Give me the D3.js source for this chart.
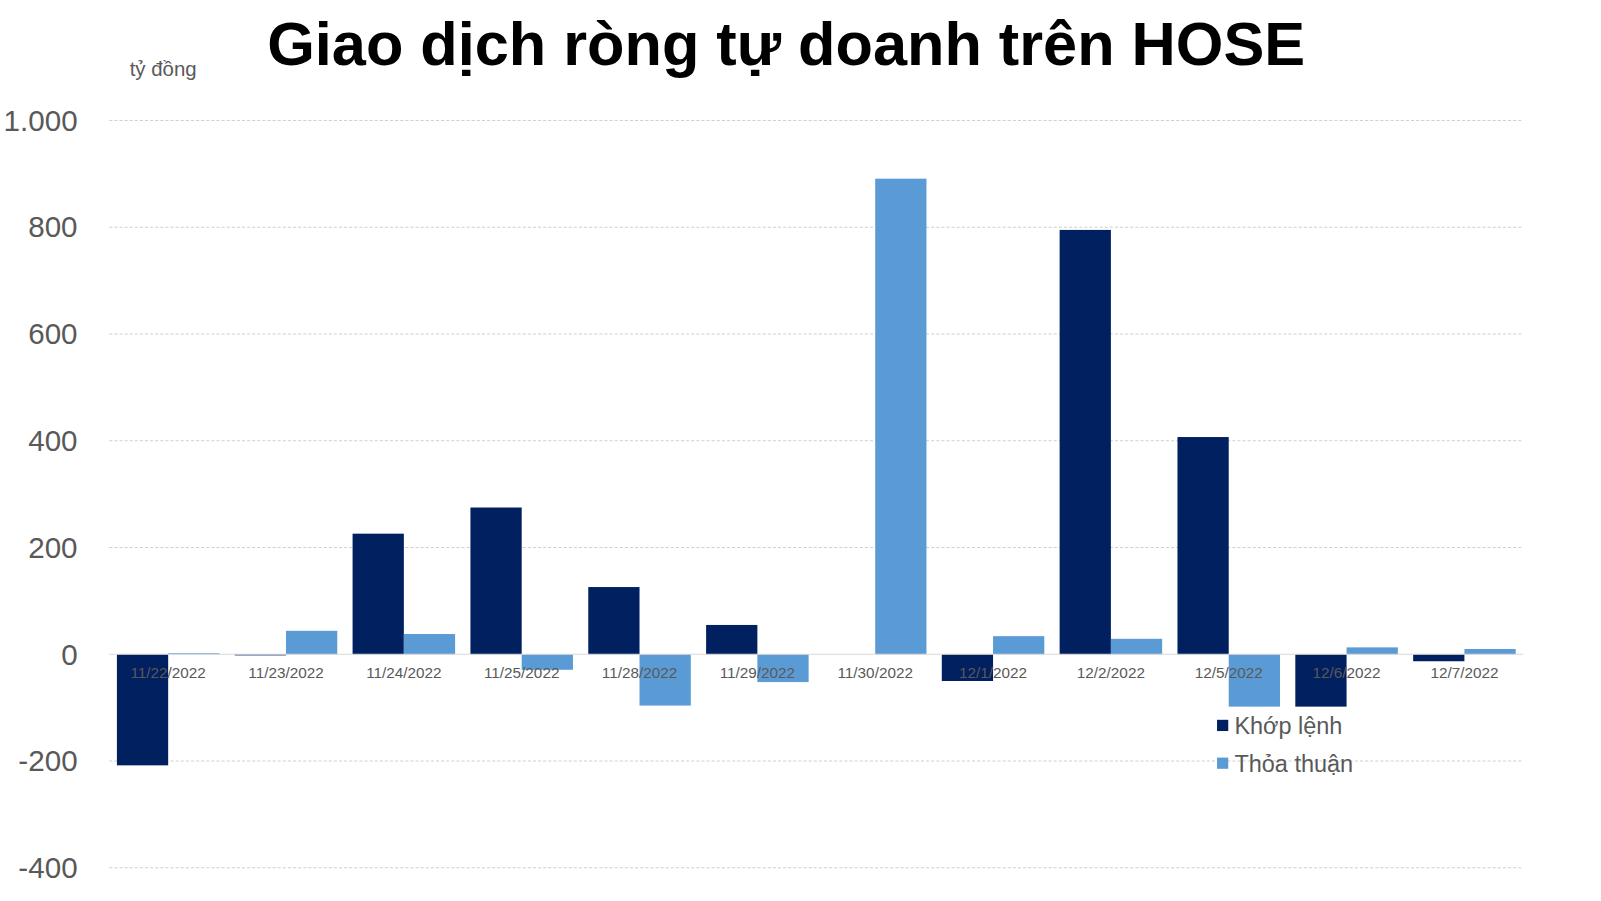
<!DOCTYPE html>
<html><head><meta charset="utf-8">
<script src="https://cdn.jsdelivr.net/npm/d3@7/dist/d3.min.js"></script>
<style>body{margin:0;background:#fff;}text{font-family:"Liberation Sans",Arial,sans-serif;}</style>
</head><body>
<svg id="c" width="1601" height="901"></svg>
<script>
const categories = ["11/22/2022","11/23/2022","11/24/2022","11/25/2022","11/28/2022","11/29/2022","11/30/2022","12/1/2022","12/2/2022","12/5/2022","12/6/2022","12/7/2022"];
const khopLenh = [-208,-2,226,275,126,55,0,-50,795,407,-98,-13];
const thoaThuan = [2,44,38,-29,-96,-52,891,34,29,-98,13,10];
const yTicks = [-400,-200,0,200,400,600,800,1000];
const seriesNames = ["Khớp lệnh","Thỏa thuận"];
const colors = ["#002060","#5b9bd5"];

const svg = d3.select("#c").append("g").attr("transform","scale(1.021)");
const x = d3.scaleBand().domain(categories).range([107,1492]).paddingInner(0.13).paddingOuter(0.065);
const y = d3.scaleLinear().domain([-400,1000]).range([850,118]);
const x1 = d3.scaleBand().domain([0,1]).range([0,x.bandwidth()]);
const fmt = d => (d<0?"-":"") + d3.format(",")(Math.abs(d)).replace(/,/g,".");

svg.append("g").selectAll("line").data(yTicks.filter(d=>d!==0)).join("line")
  .attr("x1",107).attr("x2",1492).attr("y1",d=>y(d)).attr("y2",d=>y(d))
  .attr("stroke","#d0d0d0").attr("stroke-dasharray","3,2");
svg.append("g").selectAll("text").data(yTicks).join("text")
  .attr("x",76).attr("y",d=>y(d)+10).attr("text-anchor","end")
  .attr("font-size",29).attr("fill","#595959").text(fmt);

const series = [khopLenh, thoaThuan];
series.forEach((s,i)=>{
  svg.append("g").selectAll("rect").data(s).join("rect")
    .attr("x",(d,j)=>x(categories[j])+x1(i)).attr("width",x1.bandwidth())
    .attr("y",d=>y(Math.max(0,d))).attr("height",d=>Math.abs(y(d)-y(0)))
    .attr("fill",colors[i]);
});
svg.append("line").attr("x1",107).attr("x2",1492).attr("y1",y(0)).attr("y2",y(0)).attr("stroke","#d9d9d9");
svg.append("g").selectAll("text").data(categories).join("text")
  .attr("x",d=>x(d)+x.bandwidth()/2).attr("y",y(0)+23).attr("text-anchor","middle")
  .attr("font-size",15).attr("fill","#595959").text(d=>d);

svg.append("text").attr("x",770).attr("y",64).attr("text-anchor","middle")
  .attr("font-size",60).attr("font-weight","bold").attr("fill","#000").text("Giao dịch ròng tự doanh trên HOSE");
svg.append("text").attr("x",127).attr("y",74).attr("font-size",20).attr("fill","#595959").text("tỷ đồng");

seriesNames.forEach((n,i)=>{
  const ly = 711 + i*37;
  svg.append("rect").attr("x",1192).attr("y",ly-6).attr("width",11).attr("height",11).attr("fill",colors[i]);
  svg.append("text").attr("x",1209).attr("y",ly+8).attr("font-size",23).attr("fill","#595959").text(n);
});
</script>
</body></html>
